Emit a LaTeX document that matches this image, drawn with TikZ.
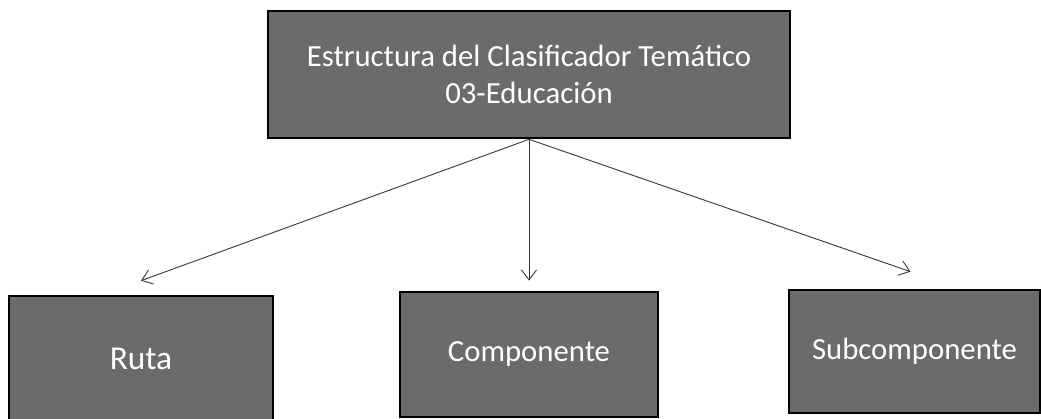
\documentclass[tikz,border=0pt]{standalone}
\usepackage{fontspec}
\setmainfont{Carlito}
\usepackage{xcolor}
\usepackage{tikz}
\usetikzlibrary{shapes,arrows.meta,positioning}

\tikzset{
    caja/.style={
        draw=black,
        line width=1.5pt,
        fill=black!58,
        text=white,
        font=\fontsize{17.5}{21}\selectfont,
        align=center,
        inner sep=0pt
    },
    flecha/.style={
        -{Straight Barb[length=0.2cm,width=0.3cm]},
        line width=0.5pt,
        draw=black!80
    }
}

\begin{document}
\begin{tikzpicture}
                \useasboundingbox (0,0) rectangle (20.82,8.38);

                % caja principal
                \node[
                    caja,
                    minimum width=10.44cm,
                    minimum height=2.54cm
                    ] (clasificador) at (10.58,6.89)
                    {Estructura del Clasificador Temático\\03-Educación};

                % cajas de abajo
                \node[
                    caja,
                    minimum width=5.28cm,
                    minimum height=2.5cm,
                    font=\fontsize{19}{23}\selectfont
                    ] (ruta) at (2.82,1.21) {Ruta};

                \node[
                    caja,
                    minimum width=5.16cm,
                    minimum height=2.5cm
                    ] (componente) at (10.58,1.29) {Componente};

                \node[
                    caja,
                    minimum width=5.02cm,
                    minimum height=2.46cm
                    ] (subcomponente) at (18.29,1.35) {Subcomponente};

                \draw[flecha] (clasificador.south) to ([yshift=0.28cm]ruta.north);
                \draw[flecha] (clasificador.south) to ([yshift=0.2cm]componente.north);
                \draw[flecha] (clasificador.south) to ([xshift=-0.08cm,yshift=0.34cm]subcomponente.north);

            \end{tikzpicture}
\end{document}
